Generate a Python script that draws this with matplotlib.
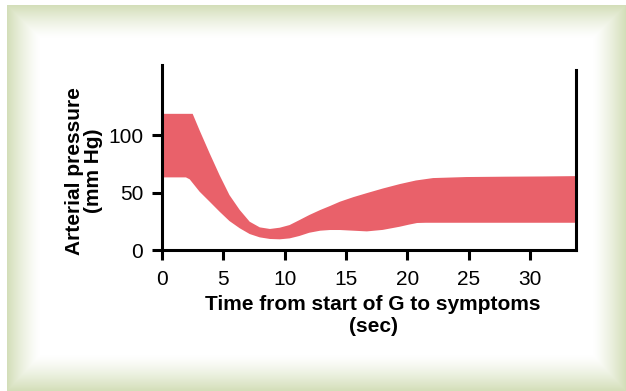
import numpy as np
import matplotlib
matplotlib.use('Agg')
import matplotlib.pyplot as plt

plt.rcParams['font.family'] = ['Liberation Sans', 'DejaVu Sans']

# band of arterial pressure (mm Hg) vs time (sec)
t_upper = [0, 2.5, 3.07, 3.89, 4.7, 5.5, 6.34, 7.15, 7.97, 8.8, 9.6, 10.4,
           11.2, 12.0, 12.9, 13.7, 14.5, 15.6, 16.7, 18.0, 19.4, 20.7, 22.1,
           24.8, 28.0, 31.0, 33.75]
p_upper = [118.5, 118.5, 104, 84, 65, 47.8, 34.8, 24.6, 19.7, 18.3, 19.4, 21.7,
           26, 30.4, 34.8, 38.3, 42, 46, 49.5, 53.5, 57.4, 60.5, 62.6,
           63.5, 63.8, 64, 64.3]

t_lower = [0, 1.95, 2.26, 3.07, 3.89, 4.7, 5.5, 6.34, 7.15, 7.97, 8.8, 9.6,
           10.4, 11.2, 12.0, 12.9, 13.7, 14.5, 15.6, 16.7, 18.0, 19.4, 20.1,
           20.8, 21.5, 25.0, 30.0, 33.75]
p_lower = [63.2, 63.2, 61.5, 50.7, 42, 33.3, 25.2, 18.9, 13.9, 11, 9.6, 9.3,
           10.1, 12.2, 15, 16.8, 17.4, 17.4, 16.8, 16.2, 17.5, 20.3, 22,
           23.5, 23.7, 23.7, 23.7, 23.7]

xticks = [0, 5, 10, 15, 20, 25, 30]
yticks = [0, 50, 100]

W, H = 626, 391
fig = plt.figure(figsize=(W / 100, H / 100), dpi=100)
fig.patch.set_facecolor('white')

# green fading frame behind everything
bg = fig.add_axes([0, 0, 1, 1], zorder=-1)
xx, yy = np.meshgrid(np.arange(W) + 0.5, np.arange(H) + 0.5)
f_left = np.clip((40 - xx) / 33, 0, 1)
f_right = np.clip((xx - 593) / 33, 0, 1)
f_top = np.clip((38 - yy) / 33, 0, 1)
f_bot = np.clip((yy - 355) / 36, 0, 1)
f = np.maximum.reduce([f_left, f_right, f_top, f_bot]) ** 1.3
green = np.array([211, 222, 184]) / 255.0
img = (1 - f[..., None]) * np.ones(3) + f[..., None] * green
outside = (xx < 7) | (yy < 5)
img[outside] = 1.0
bg.imshow(img, extent=[0, W, H, 0], aspect='auto', interpolation='bilinear')
bg.set_xlim(0, W)
bg.set_ylim(H, 0)
bg.axis('off')

ax = fig.add_axes([162 / W, (H - 250) / H, (576 - 162) / W, (250 - 65) / H])
ax.patch.set_alpha(0)

band_x = np.concatenate([t_upper, t_lower[::-1]])
band_y = np.concatenate([p_upper, p_lower[::-1]])
ax.fill(band_x, band_y, color='#e9616a', lw=0)

ax.set_xlim(0, 33.75)
ax.set_ylim(0, 161)
ax.set_xticks(xticks)
ax.set_yticks(yticks)
ax.spines['top'].set_visible(False)
ax.spines['right'].set_bounds(0, 156.5)
for s in ['left', 'right', 'bottom']:
    ax.spines[s].set_linewidth(2.2)
ax.tick_params(length=7, width=2.2, labelsize=15, direction='out')
ax.tick_params(axis='x', pad=7.5)
ax.tick_params(axis='y', pad=6.5)

fig.text(84 / W, (H - 171) / H, 'Arterial pressure\n(mm Hg)', rotation=90,
         ha='center', va='center', fontsize=15, fontweight='bold',
         multialignment='center', linespacing=1.05)
fig.text(373 / W, (H - 316) / H, 'Time from start of G to symptoms\n(sec)',
         ha='center', va='center', fontsize=15, fontweight='bold',
         multialignment='center', linespacing=1.2)

fig.savefig('out.png', dpi=100)
